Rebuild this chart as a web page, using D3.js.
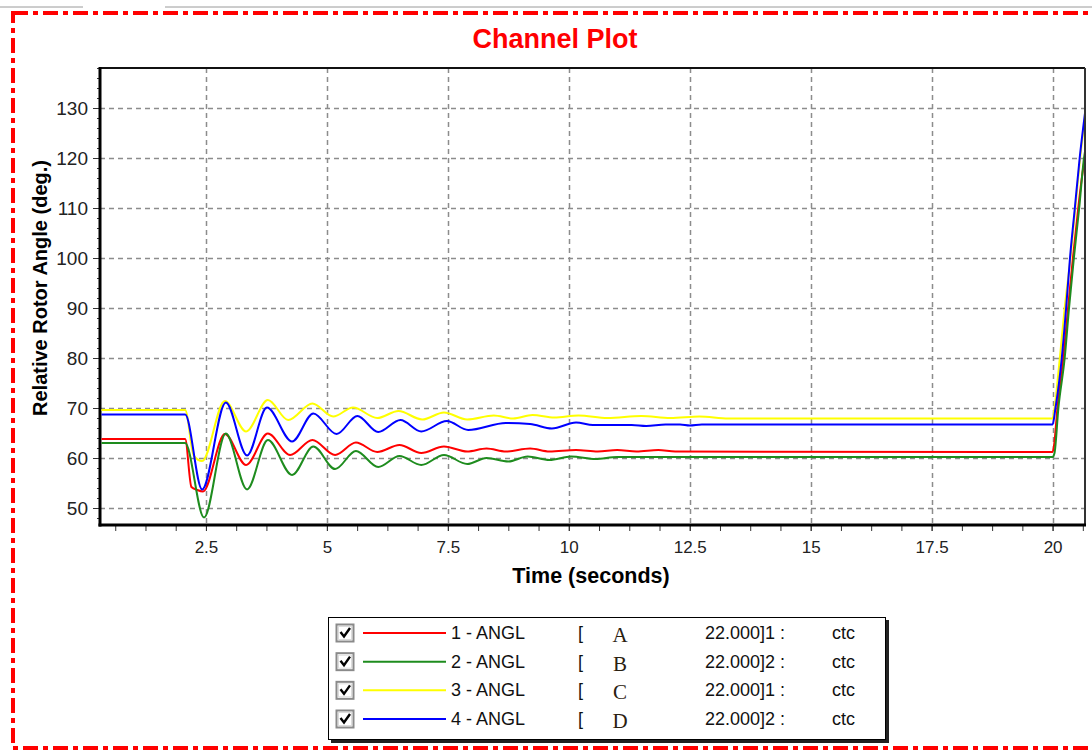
<!DOCTYPE html>
<html>
<head>
<meta charset="utf-8">
<script src="https://cdn.jsdelivr.net/npm/d3@7"></script>
<style>
  body { margin: 0; background: #fff; }
  svg { display: block; font-family: "Liberation Sans", Arial, sans-serif; }
</style>
</head>
<body>
<div id="chart"></div>
<script>
// channel data: [time (s), relative rotor angle (deg)]
var angl1 = [[0.31,63.8],[2.07,63.8],[2.2,54.2],[2.32,53.6],[2.44,53.3],[2.89,64.8],[3.33,58.6],[3.78,64.9],
  [4.24,60.6],[4.7,63.6],[5.17,60.6],[5.6,63.1],[6.04,61.2],[6.5,62.6],[6.95,61.0],[7.42,62.3],[7.9,61.3],[8.3,61.9],
  [8.7,61.3],[9.2,61.9],[9.6,61.3],[10.15,61.6],[10.6,61.3],[11.0,61.6],[11.4,61.3],[11.85,61.6],
  [12.2,61.3],[20.0,61.2],[20.03,62.5],[20.1,70],[20.22,80],[20.32,90],[20.42,100],[20.53,110],[20.65,119],[20.67,120]];

var angl2 = [[0.31,63.0],[2.07,63.0],[2.46,48.1],[2.91,64.9],[3.35,53.7],[3.78,63.6],[4.28,56.6],[4.72,62.3],[5.17,57.8],
  [5.6,61.4],[6.06,58.2],[6.5,60.4],[6.95,58.6],[7.42,60.6],[7.9,58.8],[8.3,60.0],[8.75,59.3],[9.15,60.3],[9.6,59.6],
  [10.05,60.3],[10.55,59.8],[11.0,60.2],[11.5,60.2],[20.0,60.2],[20.04,61.0],[20.12,70],[20.25,80],[20.34,90],[20.44,100],
  [20.55,110],[20.65,120],[20.67,121.3]];

var angl3 = [[0.31,69.6],[2.07,69.6],[2.25,60.4],[2.42,59.4],[2.89,71.4],[3.33,65.3],[3.78,71.6],[4.2,67.6],[4.7,70.9],
  [5.13,68.3],[5.54,70.1],[6.04,68.0],[6.48,69.4],[6.97,67.7],[7.42,69.1],[7.9,67.7],[8.45,68.5],[8.85,67.9],[9.25,68.6],
  [9.7,68.1],[10.2,68.5],[10.8,68.0],[11.5,68.4],[12.1,68.0],[12.7,68.3],[13.3,67.9],[20.0,67.9],[20.04,70],[20.15,80],
  [20.25,90],[20.37,100],[20.47,110],[20.57,120],[20.67,128]];

var angl4 = [[0.31,68.7],[2.07,68.7],[2.42,53.7],[2.91,71.1],[3.35,60.5],[3.76,70.1],[4.28,63.3],[4.72,68.9],[5.2,64.8],
  [5.63,68.4],[6.06,65.2],[6.52,67.6],[6.95,65.3],[7.48,67.4],[7.92,65.6],[8.7,67.0],[9.2,66.8],[9.65,65.9],[10.15,67.1],
  [10.5,66.6],[11.3,66.6],[11.6,66.4],[12.0,66.7],[12.3,66.7],[12.5,66.5],[12.75,66.7],[20.0,66.7],[20.06,70],[20.19,80],
  [20.28,90],[20.36,100],[20.46,110],[20.56,120],[20.67,129]];

var seriesData = [angl1, angl2, angl3, angl4];
var seriesColors = ["#ff0000", "#1e8c1e", "#ffff00", "#0000ff"];
var seriesNames = ["1 - ANGL", "2 - ANGL", "3 - ANGL", "4 - ANGL"];
var busNames = ["A", "B", "C", "D"];
var busInfo = ["22.000]1 :", "22.000]2 :", "22.000]1 :", "22.000]2 :"];
var busCase = ["ctc", "ctc", "ctc", "ctc"];

var xTicks = [2.5, 5, 7.5, 10, 12.5, 15, 17.5, 20];
var yTicks = [50, 60, 70, 80, 90, 100, 110, 120, 130];

var width = 1092, height = 754;
var plotLeft = 100, plotRight = 1085, plotTop = 68, plotBottom = 525;

var svg = d3.select("#chart").append("svg")
  .attr("width", width)
  .attr("height", height);

// window edge + red dash-dot frame
svg.append("line").attr("x1", 0).attr("x2", 83).attr("y1", 7).attr("y2", 7)
  .attr("stroke", "#9a9a9a").attr("stroke-width", 1);
svg.append("line").attr("x1", 165).attr("x2", width).attr("y1", 7).attr("y2", 7)
  .attr("stroke", "#9a9a9a").attr("stroke-width", 1);
svg.append("rect")
  .attr("x", 13).attr("y", 13).attr("width", 1100).attr("height", 735)
  .attr("fill", "none").attr("stroke", "#ff0000").attr("stroke-width", 4)
  .attr("stroke-dasharray", "15,5,5,5");

var x = d3.scaleLinear().domain([0.31, 20.67]).range([plotLeft, plotRight]);
var y = d3.scaleLinear().domain([46.6, 138]).range([plotBottom, plotTop]);

// grid
svg.append("g").selectAll("line").data(xTicks).enter().append("line")
  .attr("x1", d => Math.round(x(d)) + 0.5).attr("x2", d => Math.round(x(d)) + 0.5)
  .attr("y1", plotTop).attr("y2", plotBottom)
  .attr("stroke", "#8c8c8c").attr("stroke-width", 1.5).attr("stroke-dasharray", "5,4");
svg.append("g").selectAll("line").data(yTicks).enter().append("line")
  .attr("x1", plotLeft).attr("x2", plotRight)
  .attr("y1", d => Math.round(y(d)) + 0.5).attr("y2", d => Math.round(y(d)) + 0.5)
  .attr("stroke", "#8c8c8c").attr("stroke-width", 1.5).attr("stroke-dasharray", "5,4");

// axes
var yAxis = d3.axisLeft(y).tickValues(yTicks).tickSize(7).tickPadding(5);
var yMinor = d3.axisLeft(y).tickValues(d3.range(48, 139, 2)).tickSize(3).tickFormat("");
var xAxis = d3.axisBottom(x).tickValues(xTicks).tickSize(6).tickPadding(10)
  .tickFormat(d => d3.format("")(d));
var xMinor = d3.axisBottom(x).tickValues(d3.range(0.625, 20.7, 0.625)).tickSize(6).tickFormat("");

function styleAxis(g, size) {
  g.select(".domain").remove();
  g.selectAll("line").attr("stroke", "#333");
  g.selectAll("text").attr("fill", "#222").style("font-size", size || "17px");
}

svg.append("g").attr("transform", "translate(" + plotLeft + ",0)").call(yMinor).call(styleAxis);
svg.append("g").attr("transform", "translate(" + plotLeft + ",0)").call(yAxis).call(styleAxis, "19px");
svg.append("g").attr("transform", "translate(0," + plotBottom + ")").call(xMinor).call(styleAxis);
svg.append("g").attr("transform", "translate(0," + plotBottom + ")").call(xAxis).call(styleAxis, "17px");

// frame
svg.append("line").attr("x1", plotLeft).attr("x2", plotRight).attr("y1", plotTop).attr("y2", plotTop)
  .attr("stroke", "#111").attr("stroke-width", 2);
svg.append("line").attr("x1", plotRight).attr("x2", plotRight).attr("y1", plotTop).attr("y2", plotBottom)
  .attr("stroke", "#333").attr("stroke-width", 2);
svg.append("line").attr("x1", plotLeft).attr("x2", plotLeft).attr("y1", plotTop - 1).attr("y2", plotBottom + 1.5)
  .attr("stroke", "#000").attr("stroke-width", 3);
svg.append("line").attr("x1", plotLeft - 1.5).attr("x2", plotRight + 1).attr("y1", plotBottom).attr("y2", plotBottom)
  .attr("stroke", "#000").attr("stroke-width", 3);

// lines
svg.append("clipPath").attr("id", "plotclip").append("rect")
  .attr("x", plotLeft + 1.5).attr("y", plotTop + 1)
  .attr("width", plotRight - plotLeft - 2.5).attr("height", plotBottom - plotTop - 2.5);

var line = d3.line()
  .x(d => x(d[0]))
  .y(d => y(d[1]))
  .curve(d3.curveMonotoneX);

svg.append("g").attr("clip-path", "url(#plotclip)")
  .selectAll("path").data(seriesData).enter().append("path")
  .attr("d", line)
  .attr("fill", "none")
  .attr("stroke", (d, i) => seriesColors[i])
  .attr("stroke-width", 2);

// titles
svg.append("text").attr("x", 555).attr("y", 48).attr("text-anchor", "middle")
  .attr("fill", "#ff0000").style("font-size", "27px").style("font-weight", "bold")
  .text("Channel Plot");
svg.append("text").attr("x", 591).attr("y", 583).attr("text-anchor", "middle")
  .attr("fill", "#000").style("font-size", "21.5px").style("font-weight", "bold")
  .text("Time (seconds)");
svg.append("text").attr("transform", "translate(47,288) rotate(-90)").attr("text-anchor", "middle")
  .attr("fill", "#000").style("font-size", "20px").style("font-weight", "bold")
  .text("Relative Rotor Angle (deg.)");

// legend
var lg = svg.append("g");
lg.append("rect").attr("x", 331).attr("y", 620).attr("width", 558).attr("height", 123).attr("fill", "#222");
lg.append("rect").attr("x", 328.5).attr("y", 617.5).attr("width", 557).attr("height", 122)
  .attr("fill", "#fff").attr("stroke", "#000").attr("stroke-width", 1);

var rowY = d3.scaleLinear().domain([0, 3]).range([633, 719]);

var rows = lg.selectAll("g.row").data(seriesNames).enter().append("g")
  .attr("class", "row")
  .attr("transform", (d, i) => "translate(0," + rowY(i) + ")");

rows.append("rect").attr("x", 336.5).attr("y", -8.5).attr("width", 17).attr("height", 17)
  .attr("fill", "#fff").attr("stroke", "#8a8a8a").attr("stroke-width", 2);
rows.append("rect").attr("x", 338.5).attr("y", -6.5).attr("width", 13).attr("height", 13)
  .attr("fill", "none").attr("stroke", "#dcdcdc").attr("stroke-width", 1);
rows.append("path").attr("d", "M340.5,-1 L344,3.5 L350,-5")
  .attr("fill", "none").attr("stroke", "#000").attr("stroke-width", 2.4);
rows.append("line").attr("x1", 363).attr("x2", 446).attr("y1", 0).attr("y2", 0)
  .attr("stroke", (d, i) => seriesColors[i]).attr("stroke-width", 2);
rows.append("text").attr("x", 451).attr("y", 6).style("font-size", "18px").attr("fill", "#111")
  .text(d => d);
rows.append("text").attr("x", 578).attr("y", 6).style("font-size", "18px").attr("fill", "#111")
  .text("[");
rows.append("text").attr("x", 620).attr("y", 9).attr("text-anchor", "middle")
  .style("font-family", "'Liberation Serif', 'Times New Roman', serif").style("font-size", "21px")
  .attr("fill", "#2a2010")
  .text((d, i) => busNames[i]);
rows.append("text").attr("x", 705).attr("y", 6).style("font-size", "18px").attr("fill", "#111")
  .text((d, i) => busInfo[i]);
rows.append("text").attr("x", 832).attr("y", 6).style("font-size", "18px").attr("fill", "#111")
  .text((d, i) => busCase[i]);
</script>
</body>
</html>
